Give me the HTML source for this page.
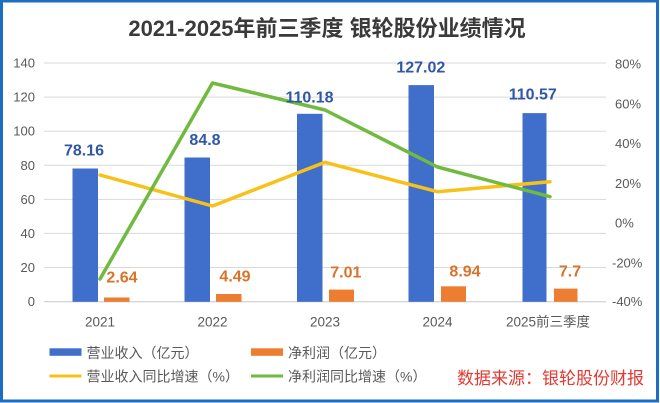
<!DOCTYPE html>
<html>
<head>
<meta charset="utf-8">
<style>
html,body{margin:0;padding:0;background:#fff;}
body{width:660px;height:403px;overflow:hidden;position:relative;}
svg{position:absolute;left:0;top:0;}
text{font-family:"Liberation Sans","Noto Sans CJK SC",sans-serif;}
</style>
</head>
<body>
<svg width="660" height="403" viewBox="0 0 660 403" xmlns="http://www.w3.org/2000/svg">
  <rect x="0" y="0" width="660" height="403" fill="#ffffff"/>
  <!-- border -->
  <rect x="1.5" y="1" width="656" height="400" fill="none" stroke="#1e6dc5" stroke-width="3"/>

  <!-- title -->
  <text x="327" y="36" text-anchor="middle" font-size="22" font-weight="bold" fill="#3a3a3a">2021-2025年前三季度 银轮股份业绩情况</text>

  <!-- gridlines -->
  <g stroke="#d9d9d9" stroke-width="1">
    <line x1="44" y1="63" x2="606" y2="63"/>
    <line x1="44" y1="97.1" x2="606" y2="97.1"/>
    <line x1="44" y1="131.2" x2="606" y2="131.2"/>
    <line x1="44" y1="165.3" x2="606" y2="165.3"/>
    <line x1="44" y1="199.4" x2="606" y2="199.4"/>
    <line x1="44" y1="233.4" x2="606" y2="233.4"/>
    <line x1="44" y1="267.5" x2="606" y2="267.5"/>
  </g>
  <line x1="44" y1="301.8" x2="606" y2="301.8" stroke="#c8c8c8" stroke-width="1"/>

  <!-- left axis labels -->
  <g font-size="13" fill="#595959" text-anchor="end">
    <text x="35" y="67.5">140</text>
    <text x="35" y="101.6">120</text>
    <text x="35" y="135.7">100</text>
    <text x="35" y="169.8">80</text>
    <text x="35" y="203.9">60</text>
    <text x="35" y="237.9">40</text>
    <text x="35" y="272">20</text>
    <text x="35" y="306">0</text>
  </g>
  <!-- right axis labels -->
  <g font-size="13" fill="#595959" text-anchor="start">
    <text x="615" y="68.5">80%</text>
    <text x="615" y="108.3">60%</text>
    <text x="615" y="148">40%</text>
    <text x="615" y="187.8">20%</text>
    <text x="615" y="227.5">0%</text>
    <text x="612" y="267.3">-20%</text>
    <text x="612" y="306">-40%</text>
  </g>

  <!-- blue bars -->
  <g fill="#3f6fcb">
    <rect x="72.5" y="168.5" width="25.5" height="133.3"/>
    <rect x="184.5" y="157.5" width="25.5" height="144.3"/>
    <rect x="297" y="113.8" width="25.5" height="188"/>
    <rect x="408.5" y="85.1" width="25.5" height="216.7"/>
    <rect x="522.5" y="113.1" width="24" height="188.7"/>
  </g>
  <!-- orange bars -->
  <g fill="#ed7d31">
    <rect x="104" y="297.5" width="25.5" height="4.3"/>
    <rect x="216" y="294" width="25.5" height="7.8"/>
    <rect x="329" y="289.6" width="25" height="12.2"/>
    <rect x="441" y="286.3" width="25" height="15.5"/>
    <rect x="554" y="288.6" width="23.5" height="13.2"/>
  </g>

  <!-- yellow line -->
  <polyline points="100,175 212.5,206 325,162.3 437.5,191.7 550,181.7" fill="none" stroke="#f8c11a" stroke-width="3.5" stroke-linejoin="round" stroke-linecap="round"/>
  <!-- green line -->
  <polyline points="100,279 212.5,83 325,110 437.5,167 550,196.7" fill="none" stroke="#6fba3f" stroke-width="3.5" stroke-linejoin="round" stroke-linecap="round"/>

  <!-- blue labels -->
  <g font-size="16" font-weight="bold" fill="#2f57a6" text-anchor="middle">
    <text x="84" y="155.7">78.16</text>
    <text x="205" y="145">84.8</text>
    <text x="309.5" y="102.6">110.18</text>
    <text x="420.8" y="72.3">127.02</text>
    <text x="532.8" y="99.6">110.57</text>
  </g>
  <!-- orange labels -->
  <g font-size="16" font-weight="bold" fill="#d9732a" text-anchor="middle">
    <text x="122" y="282.3">2.64</text>
    <text x="235" y="281.6">4.49</text>
    <text x="345.8" y="277.3">7.01</text>
    <text x="465" y="276.3">8.94</text>
    <text x="570" y="276.3">7.7</text>
  </g>

  <!-- x labels -->
  <g font-size="13.5" fill="#595959" text-anchor="middle">
    <text x="100" y="326.5">2021</text>
    <text x="212.5" y="326.5">2022</text>
    <text x="325" y="326.5">2023</text>
    <text x="437.5" y="326.5">2024</text>
    <text x="548" y="326.5">2025前三季度</text>
  </g>

  <!-- legend -->
  <rect x="49.5" y="348.3" width="32" height="7.5" fill="#3f6fcb"/>
  <text x="86.5" y="358" font-size="14" fill="#595959">营业收入（亿元）</text>
  <rect x="251" y="348.3" width="32" height="7.5" fill="#ed7d31"/>
  <text x="288" y="358" font-size="14" fill="#595959">净利润（亿元）</text>

  <line x1="49.5" y1="376" x2="81.5" y2="376" stroke="#f8c11a" stroke-width="3"/>
  <text x="86.5" y="381.5" font-size="14" fill="#595959">营业收入同比增速（%）</text>
  <line x1="251" y1="376" x2="283" y2="376" stroke="#6fba3f" stroke-width="3"/>
  <text x="288" y="381.5" font-size="14" fill="#595959">净利润同比增速（%）</text>

  <text x="457" y="384" font-size="17" fill="#e23a32">数据来源：银轮股份财报</text>
</svg>
</body>
</html>
